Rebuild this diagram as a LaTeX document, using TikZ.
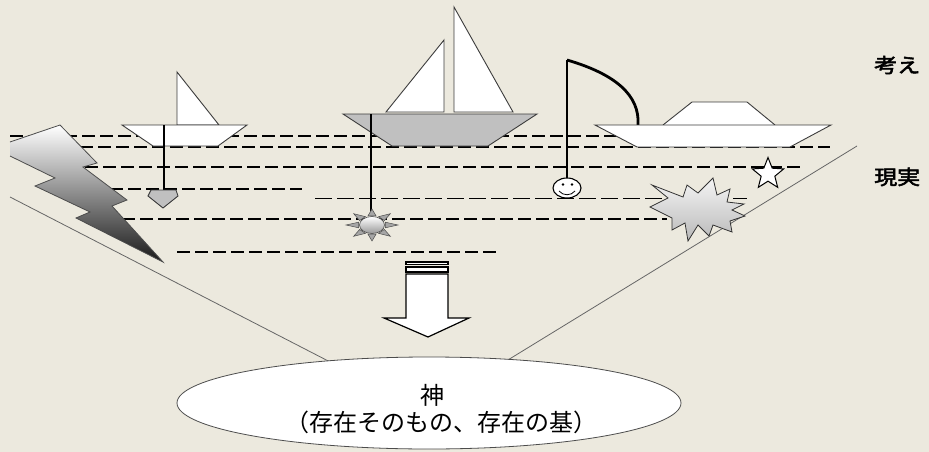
\documentclass[tikz,border=0pt]{standalone}
\usepackage{fontspec}
\newfontfamily\jpfont{Noto Sans CJK JP}
\newfontfamily\jpbold[FakeBold=2.5]{Noto Sans CJK JP}
\usetikzlibrary{shapes.geometric}
\definecolor{paper}{RGB}{236,233,222}
\definecolor{hullgrey}{RGB}{192,192,192}
\definecolor{edge}{RGB}{60,60,60}

\begin{document}
\begin{tikzpicture}[x=1pt,y=-1pt,
  sea/.style={draw=black, line width=1.8pt, dash pattern=on 13pt off 5pt},
  seathin/.style={draw=black, line width=1pt, dash pattern=on 17pt off 5pt},
  outline/.style={draw=edge, line width=0.9pt},
  fishline/.style={draw=black, line width=1.8pt},
  funnel/.style={draw=black!60, line width=0.8pt},
  sidelabel/.style={font=\jpbold\fontsize{20}{20}\selectfont, anchor=west, xscale=1.15, inner sep=0pt},
  godtext/.style={font=\jpfont\fontsize{24}{28}\selectfont, inner sep=0pt},
]
\fill[paper] (0,0) rectangle (929,452);
\useasboundingbox (0,0) rectangle (929,452);
\clip (0,0) rectangle (929,452);

% funnel walls down to the base ellipse
\coordinate (fl) at (10,197);
\coordinate (fr) at (857,146);
\coordinate (gl) at (336,365);
\coordinate (gr) at (503,363);
\draw[funnel] (fl) -- (gl);
\draw[funnel] (fr) -- (gr);

% layers of the sea
\draw[sea] (10,136) -- (700,136);
\draw[sea] (80,147) -- (830,147);
\draw[sea] (85,167) -- (803,167);
\draw[sea] (110,189) -- (302,189);
\draw[seathin] (315,198) -- (747,198);
\draw[sea] (122,219) -- (667,219);
\draw[sea] (177,252) -- (497,252);

% lightning bolt
\shade[top color=white, middle color=gray!40, bottom color=black!90]
  (10,142) -- (60,125) -- (97,163) -- (83,167) -- (127,200) -- (112,206)
  -- (163,262) -- (76,218) -- (90,212) -- (35,186) -- (55,178) -- (10,156) -- cycle;
\draw[draw=black!70, line width=0.8pt, line join=miter]
  (10,142) -- (60,125) -- (97,163) -- (83,167) -- (127,200) -- (112,206)
  -- (163,262) -- (76,218) -- (90,212) -- (35,186) -- (55,178) -- (10,156);

% small sailing boat with sinker
\draw[outline, fill=white] (177,72) -- (177,125) -- (219,125) -- cycle;
\draw[outline, fill=white] (122,125) -- (247,125) -- (218,146) -- (153,146) -- cycle;
\draw[fishline] (164,125) -- (164,191);
\draw[outline, fill=hullgrey] (151,190) -- (176,190) -- (178,196) -- (163,208) -- (148,196) -- cycle;

% big sailing boat with sun lure
\draw[outline, fill=white] (444,40) -- (444,112) -- (386,112) -- cycle;
\draw[outline, fill=white] (454,7) -- (454,112) -- (513,112) -- cycle;
\draw[outline, fill=hullgrey] (343,114) -- (537,114) -- (488,146) -- (392,146) -- cycle;
\draw[fishline] (371,114) -- (371,211);
\foreach \a in {0,45,...,315}
  \draw[draw=black!70, line width=0.5pt, fill=gray!70]
    ({372+14*cos(\a-17)},{225+9.5*sin(\a-17)}) -- ({372+26*cos(\a)},{225+16*sin(\a)})
    -- ({372+14*cos(\a+17)},{225+9.5*sin(\a+17)}) -- cycle;
\shade[draw=black!70, line width=0.6pt, top color=white, bottom color=gray!80]
  (372,225) ellipse [x radius=12.5pt, y radius=8.5pt];

% motor boat with fishing rod and smiley lure
\draw[black, line width=2.8pt] (567,60) .. controls (615,74) and (640,95) .. (638,125);
\draw[outline, fill=white] (663,125) -- (692,102) -- (747,102) -- (775,125);
\draw[outline, fill=white] (595,125) -- (831,125) -- (790,147) -- (637,147) -- cycle;
\draw[fishline] (567,60) -- (567,179);
\draw[black, line width=1.1pt, fill=white] (567,188) ellipse [x radius=14pt, y radius=10pt];
\fill (563,184.5) circle [radius=1.4pt];
\fill (572,184.5) circle [radius=1.4pt];
\draw[black, line width=0.8pt] (559,191) .. controls (563,196) and (571,196) .. (575,191);

% star and explosion
\node[star, star points=5, star point ratio=2.3, minimum size=33pt, inner sep=0pt,
      draw=black, line width=1pt, fill=white] (star) at (768,174) {};
\shade[draw=black!80, line width=0.8pt, top color=gray!8, bottom color=gray!55]
  (652,185) -- (683,197) -- (687,185) -- (698,193) -- (713,178) -- (717,195)
  -- (730,189) -- (727,202) -- (744,204) -- (732,210) -- (745,216) -- (730,221)
  -- (732,232) -- (713,225) -- (709,236) -- (698,225) -- (688,241) -- (685,223)
  -- (672,230) -- (672,218) -- (650,207) -- (668,198) -- cycle;

% arrow down to the ground of being
\draw[black, line width=1.2pt, fill=white] (406,262) rectangle (448,264.5);
\draw[black, line width=1.2pt, fill=white] (406,267) rectangle (448,272);
\draw[black, line width=1.2pt, fill=white, line join=miter]
  (406,274) -- (448,274) -- (448,318) -- (469,318) -- (428,337) -- (384,318) -- (406,318) -- cycle;

% ground ellipse
\node[ellipse, draw=black!70, line width=0.8pt, fill=white, minimum width=504pt,
      minimum height=92pt, inner sep=0pt] (god) at (429,403) {};
\node[godtext] (godname) at (432,395) {神};
\node[godtext] (godsub) at (441,422) {（存在そのもの、存在の基）};

% side labels
\node[sidelabel] (thought) at (874,65) {考え};
\node[sidelabel] (reality) at (874,177) {現実};
\end{tikzpicture}
\end{document}
